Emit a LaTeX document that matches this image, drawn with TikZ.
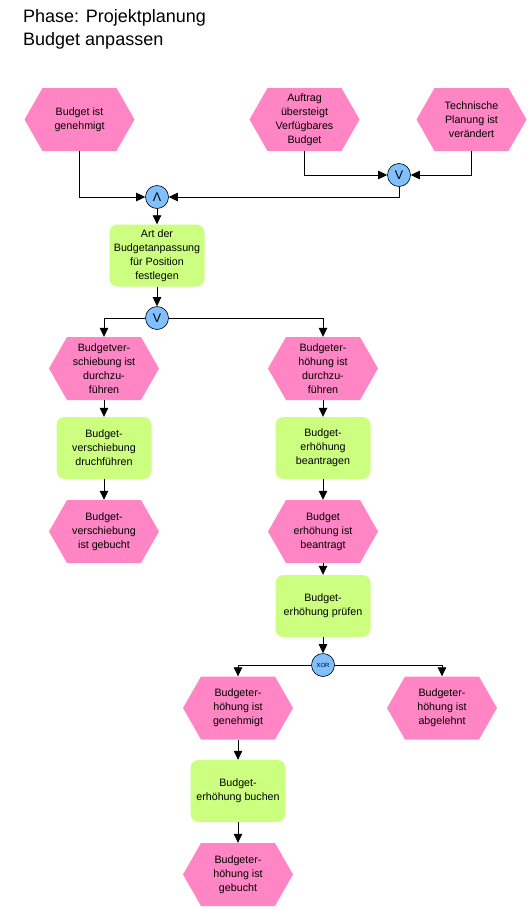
\documentclass[tikz,border=0pt]{standalone}
\usepackage{fontspec}
\setmainfont{Liberation Sans}
\usetikzlibrary{arrows.meta}
\definecolor{evpink}{RGB}{255,133,196}
\definecolor{fngreen}{RGB}{204,255,128}
\definecolor{cnblue}{RGB}{128,192,255}
\newcommand{\evfont}{\fontsize{10.7}{14}\selectfont}
\begin{document}
\begin{tikzpicture}[x=1pt,y=-1pt,
  event/.style={minimum width=110pt, minimum height=63pt, inner sep=0pt, align=center, font=\evfont,
    path picture={\fill[evpink] (path picture bounding box.west) -- ([xshift=18pt]path picture bounding box.north west) -- ([xshift=-18pt]path picture bounding box.north east) -- (path picture bounding box.east) -- ([xshift=-18pt]path picture bounding box.south east) -- ([xshift=18pt]path picture bounding box.south west) -- cycle;}},
  func/.style={fill=fngreen, rounded corners=8pt, minimum width=95pt, minimum height=62pt, inner sep=0pt, align=center, font=\evfont},
  conn/.style={circle, fill=cnblue, draw=black, line width=0.6pt, minimum size=23pt, inner sep=0pt, font=\fontsize{12.5}{12.5}\selectfont},
  flow/.style={line width=0.8pt, -{Triangle[length=9pt,width=8.5pt]}},
  title/.style={anchor=base west, inner sep=0pt, font=\fontsize{18}{22}\selectfont}]
\useasboundingbox (0,0) rectangle (530,910);
\node[title] (t1) at (23,23) {Phase: Projektplanung};
\node[title] (t2) at (23,45) {Budget anpassen};

\node[event] (e1) at (79.5,119.5) {Budget ist\\genehmigt};
\node[event] (e2) at (304.5,119.5) {Auftrag\\übersteigt\\Verfügbares\\Budget};
\node[event] (e3) at (471.5,119.5) {Technische\\Planung ist\\verändert};
\node[conn] (or1) at (399,175) {V};
\node[conn] (and) at (157,197) {Λ};
\node[func] (f1) at (157,255.5) {Art der\\Budgetanpassung\\für Position\\festlegen};
\node[conn] (or2) at (157,318) {V};
\node[event] (e4) at (104,368.5) {Budgetver-\\schiebung ist\\durchzu-\\führen};
\node[event] (e5) at (323,368.5) {Budgeter-\\höhung ist\\durchzu-\\führen};
\node[func] (f2) at (104,448) {Budget-\\verschiebung\\druchführen};
\node[func] (f3) at (323,448) {Budget-\\erhöhung\\beantragen};
\node[event] (e6) at (104,531.5) {Budget-\\verschiebung\\ist gebucht};
\node[event] (e7) at (323,531.5) {Budget\\erhöhung ist\\beantragt};
\node[func] (f4) at (323,606) {Budget-\\erhöhung prüfen};
\node[conn, font=\fontsize{6}{6}\selectfont] (xor) at (323,665) {XOR};
\node[event] (e8) at (238,708) {Budgeter-\\höhung ist\\genehmigt};
\node[event] (e9) at (442,708) {Budgeter-\\höhung ist\\abgelehnt};
\node[func] (f5) at (238,791) {Budget-\\erhöhung buchen};
\node[event] (e10) at (238,874.5) {Budgeter-\\höhung ist\\gebucht};

\draw[flow] (e1.south) |- (and.west);
\draw[flow] (e2.south) |- (or1.west);
\draw[flow] (e3.south) |- (or1.east);
\draw[flow] (or1.south) |- (and.east);
\draw[flow] (and.south) -- (f1.north);
\draw[flow] (f1.south) -- (or2.north);
\draw[flow] (or2.west) -| (e4.north);
\draw[flow] (or2.east) -| (e5.north);
\draw[flow] (e4.south) -- (f2.north);
\draw[flow] (f2.south) -- (e6.north);
\draw[flow] (e5.south) -- (f3.north);
\draw[flow] (f3.south) -- (e7.north);
\draw[flow] (e7.south) -- (f4.north);
\draw[flow] (f4.south) -- (xor.north);
\draw[flow] (xor.west) -| (e8.north);
\draw[flow] (xor.east) -| (e9.north);
\draw[flow] (e8.south) -- (f5.north);
\draw[flow] (f5.south) -- (e10.north);
\end{tikzpicture}
\end{document}
